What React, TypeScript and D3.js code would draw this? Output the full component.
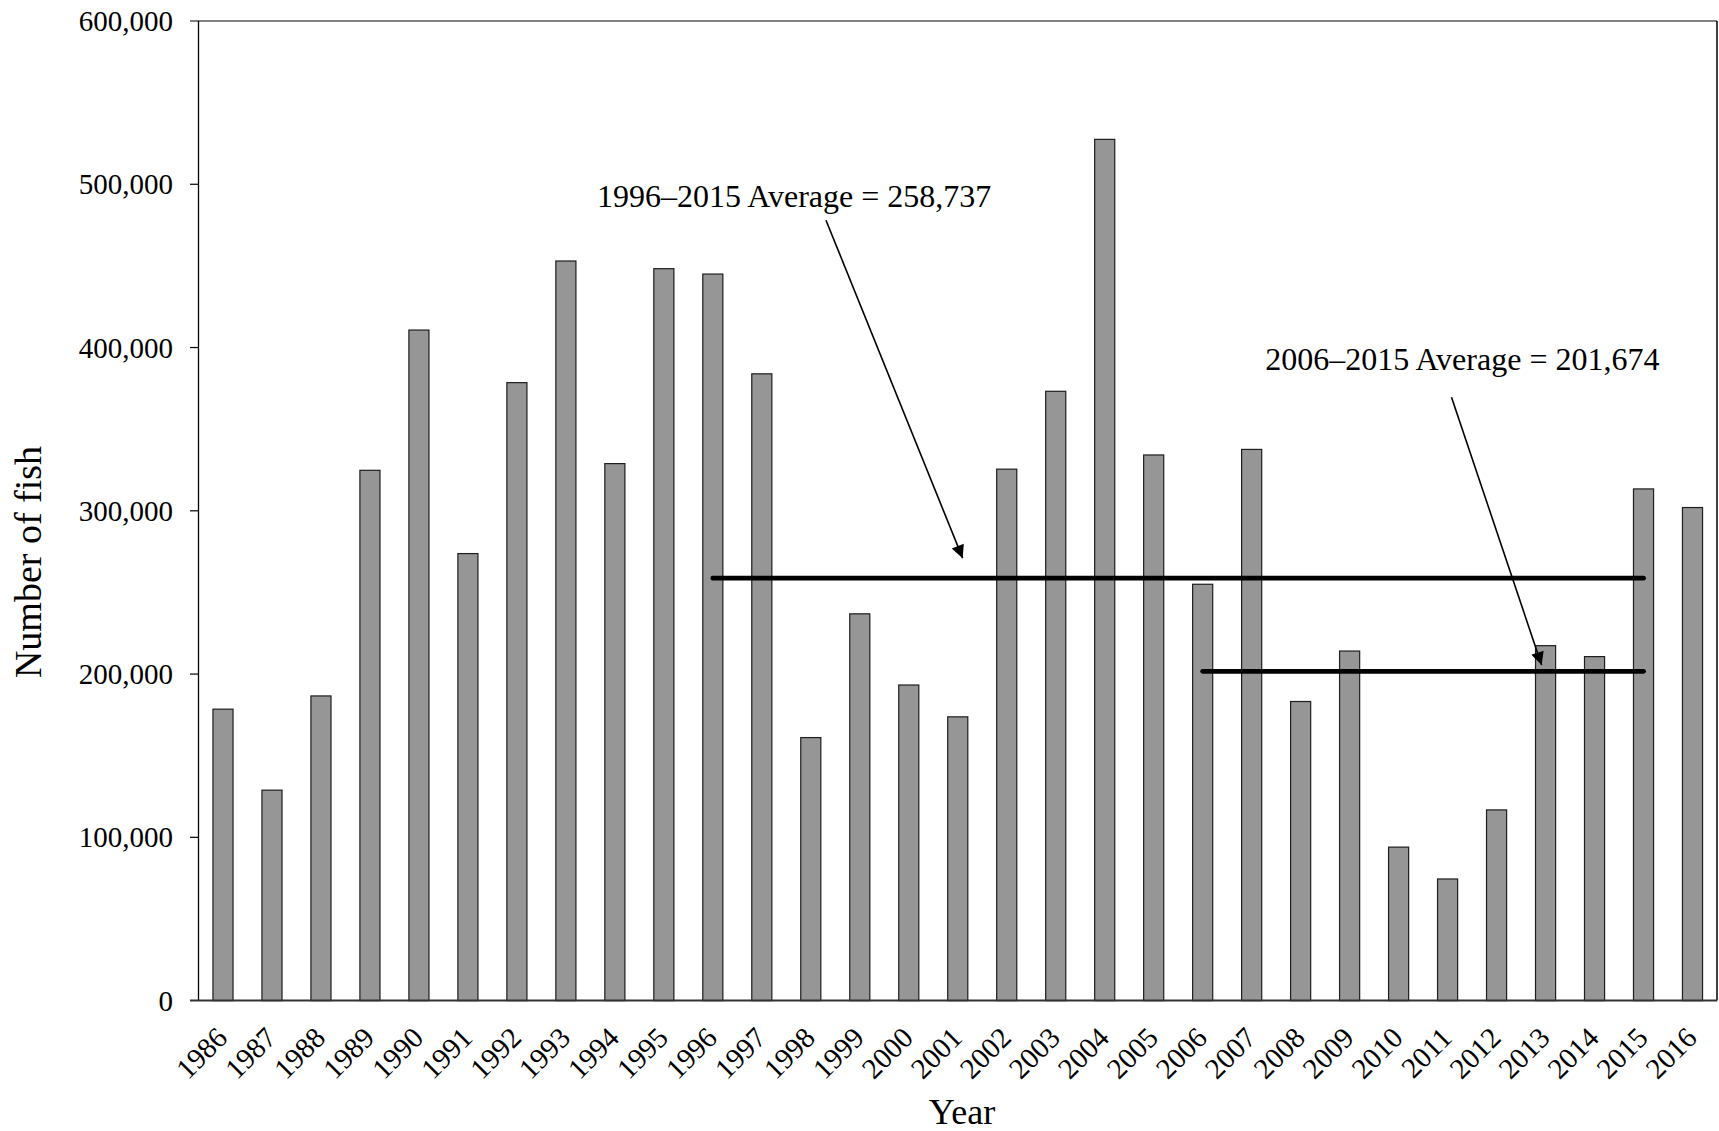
import React from 'react';
import * as d3 from 'd3';

const years = ['1986','1987','1988','1989','1990','1991','1992','1993','1994','1995','1996','1997','1998','1999','2000','2001','2002','2003','2004','2005','2006','2007','2008','2009','2010','2011','2012','2013','2014','2015','2016'];
const fish = [178500,128900,186600,324800,410700,273800,378500,453000,328900,448300,445000,383900,161100,236900,193300,173800,325500,373200,527500,334200,255000,337600,183200,214100,94000,74500,116800,217400,210700,313400,302000];
const yTicks = [0,100000,200000,300000,400000,500000,600000];
const avgValues = [258737, 201674];
const avgFrom = ['1996', '2006'];
const avgTo = ['2015', '2015'];
const avgLabels = ['1996\u20132015 Average = 258,737', '2006\u20132015 Average = 201,674'];
// annotation anchors in data space: [category index, value]
const labelPos = [[11.66, 486000], [25.3, 386000]];
const arrowStart = [[12.31, 478000], [25.08, 369600]];
const arrowEnd = [[15.1, 271000], [26.92, 205500]];

const W = 1719, H = 1131;
const L = 198.5, R = 1717, T = 21, B = 1000.6;
const FONT = '"Liberation Serif", "Times New Roman", serif';

export default function App() {
  const x = d3.scaleBand<string>().domain(years).range([L, R]).paddingInner(0.59).paddingOuter(0.295);
  const xi = d3.scaleLinear().domain([-0.5, years.length - 0.5]).range([L, R]);
  const y = d3.scaleLinear().domain([0, 600000]).range([B, T]);
  const fmt = d3.format(',');
  const cx = (c: string) => (x(c) as number) + x.bandwidth() / 2;

  return (
    <svg width={W} height={H} style={{ position: 'absolute', left: 0, top: 0, background: '#fff' }} fontFamily={FONT}>
      <defs>
        <marker id="ah" viewBox="0 0 10 10" refX="10" refY="5" markerWidth="16" markerHeight="13" markerUnits="userSpaceOnUse" orient="auto">
          <path d="M0,0 L10,5 L0,10 z" fill="#000" />
        </marker>
      </defs>
      <rect x={0} y={0} width={W} height={H} fill="#fff" />
      {/* bars */}
      {years.map((c, i) => (
        <rect key={c} x={x(c)} y={y(fish[i])} width={x.bandwidth()} height={B - y(fish[i])}
          fill="#969696" stroke="#1e1e1e" strokeWidth={1.2} />
      ))}
      {/* frame */}
      <line x1={190} x2={R} y1={T} y2={T} stroke="#808080" strokeWidth={2} />
      <line x1={L} x2={L} y1={T} y2={B} stroke="#000" strokeWidth={1.3} />
      <line x1={R} x2={R} y1={T} y2={B} stroke="#000" strokeWidth={1.5} />
      <line x1={190} x2={R} y1={B} y2={B} stroke="#333" strokeWidth={2} />
      {yTicks.map(t => (
        <g key={t}>
          {t > 0 && t < 600000 && <line x1={190} x2={L} y1={y(t)} y2={y(t)} stroke="#000" strokeWidth={1.2} />}
          <text x={173} y={y(t)} dy="0.35em" textAnchor="end" fontSize={29} fill="#000">{fmt(t)}</text>
        </g>
      ))}
      {/* x tick labels */}
      {years.map(c => (
        <text key={c} transform={`translate(${cx(c) + 6},${B + 39}) rotate(-45)`} textAnchor="end" fontSize={29} fill="#000">{c}</text>
      ))}
      {/* average lines */}
      {avgValues.map((v, i) => (
        <line key={i} x1={cx(avgFrom[i])} x2={cx(avgTo[i])} y1={y(v)} y2={y(v)} stroke="#000" strokeWidth={4.8} strokeLinecap="round" />
      ))}
      {/* annotations */}
      {avgLabels.map((s, i) => (
        <g key={s}>
          <text x={xi(labelPos[i][0])} y={y(labelPos[i][1])} textAnchor="middle" fontSize={32} fill="#000">{s}</text>
          <line x1={xi(arrowStart[i][0])} y1={y(arrowStart[i][1])} x2={xi(arrowEnd[i][0])} y2={y(arrowEnd[i][1])}
            stroke="#000" strokeWidth={1.6} markerEnd="url(#ah)" />
        </g>
      ))}
      {/* axis titles */}
      <text x={962} y={1124} textAnchor="middle" fontSize={36} fill="#000">Year</text>
      <text transform={`translate(41,562) rotate(-90)`} textAnchor="middle" fontSize={38} fill="#000">Number of fish</text>
    </svg>
  );
}
